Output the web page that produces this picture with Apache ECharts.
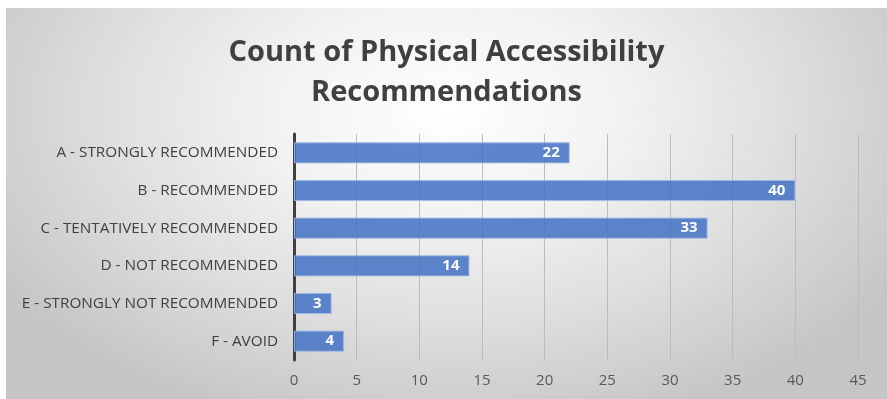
<!DOCTYPE html>
<html>
<head>
<meta charset="utf-8">
<script src="https://cdn.jsdelivr.net/npm/echarts@6/dist/echarts.min.js"></script>
<style>
  html, body { margin: 0; padding: 0; background: #ffffff; }
  #chart {
    position: absolute; left: 6px; top: 8px; width: 881px; height: 391px;
    background: radial-gradient(ellipse 60% 85% at 50% 26%, #ffffff 0%, #f1f1f1 35%, #dedede 65%, #c5c5c5 100%);
  }
</style>
</head>
<body>
<div id="chart"></div>
<script>
// Recommendation categories, top to bottom
const categories = [
  'A - STRONGLY RECOMMENDED',
  'B - RECOMMENDED',
  'C - TENTATIVELY RECOMMENDED',
  'D - NOT RECOMMENDED',
  'E - STRONGLY NOT RECOMMENDED',
  'F - AVOID'
];
// Count of recommendations per category
const counts = [22, 40, 33, 14, 3, 4];
// Value axis ticks
const axisMin = 0, axisMax = 45, axisStep = 5;

const chart = echarts.init(document.getElementById('chart'), null, { renderer: 'canvas' });
chart.setOption({
  backgroundColor: 'transparent',
  animation: false,
  title: {
    text: 'Count of Physical Accessibility\nRecommendations',
    left: 'center',
    top: 20,
    textStyle: {
      fontFamily: 'Open Sans',
      fontWeight: 'bold',
      fontSize: 29,
      lineHeight: 40,
      color: '#404040'
    }
  },
  grid: { left: 288, right: 29, top: 126, bottom: 39, containLabel: false },
  xAxis: {
    type: 'value',
    min: axisMin, max: axisMax, interval: axisStep,
    axisLine: { show: false },
    axisTick: { show: false },
    splitLine: { show: true, lineStyle: { color: '#bcbcbc', width: 1 } },
    axisLabel: { color: '#595959', fontFamily: 'Open Sans', fontSize: 15, margin: 13 }
  },
  yAxis: {
    type: 'category',
    inverse: true,
    data: categories,
    axisLine: { show: true, lineStyle: { color: '#404040', width: 3 } },
    axisTick: { show: false },
    axisLabel: { color: '#404040', fontFamily: 'Open Sans', fontSize: 15.3, margin: 16 }
  },
  series: [{
    type: 'bar',
    data: counts,
    barCategoryGap: '44%',
    itemStyle: { color: 'rgba(68,114,196,0.86)', borderColor: 'rgba(160,185,230,0.9)', borderWidth: 1 },
    label: {
      show: true,
      position: 'insideRight',
      distance: 10,
      color: '#ffffff',
      fontFamily: 'Open Sans',
      fontWeight: 'bold',
      fontSize: 15
    }
  }]
});
</script>
</body>
</html>
